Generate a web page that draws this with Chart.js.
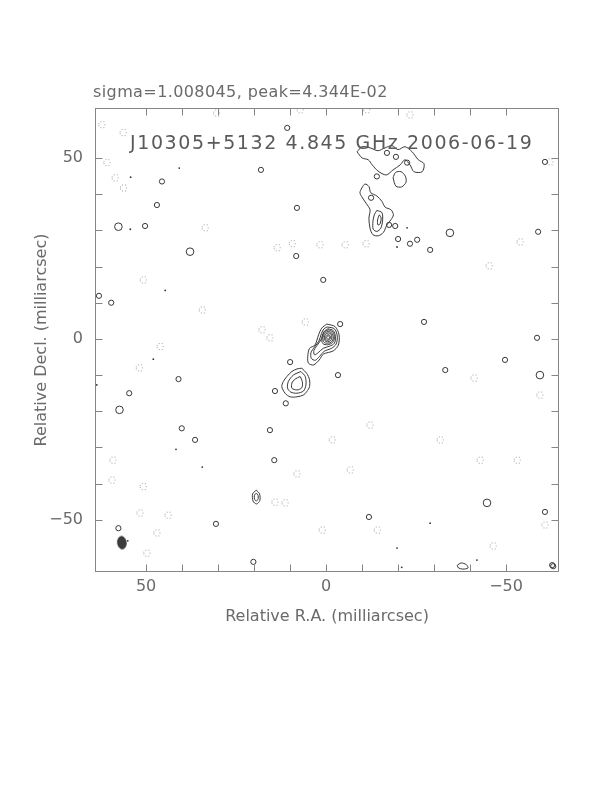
<!DOCTYPE html>
<html><head><meta charset="utf-8">
<script src="https://cdn.jsdelivr.net/npm/chart.js@4"></script>
<style>html,body{margin:0;padding:0;background:#fff;}#wrap{width:612px;height:792px;}</style>
</head><body><div id="wrap"><canvas id="c" width="612" height="792"></canvas></div>
<script>
// ---------- text ----------
const headerText = 'sigma=1.008045, peak=4.344E-02';
const mapLabel = 'J10305+5132 4.845 GHz 2006-06-19';
const xTitle = 'Relative R.A. (milliarcsec)';
const yTitle = 'Relative Decl. (milliarcsec)';
const xTickLabels = [50, 0, -50];
const yTickLabels = [50, 0, -50];
const xRange = [-64.7, 64.2];
const yRange = [-64.4, 63.8];

// ---------- contours (RA, Dec in mas) ----------
const coreContours = [
  [[-0.2,4.1],[-2.5,3.4],[-3.6,1.1],[-3.4,-1.7],[-2.0,-3.3],[0.75,-4.2],[1.9,-5.8],[3.5,-7.2],[4.9,-6.7],[5.1,-4.9],[4.6,-2.6],[3.1,-1.7],[2.1,1.1],[1.2,3.0]],
  [[-0.3,3.3],[-2.3,2.8],[-3.1,0.8],[-2.8,-1.4],[-1.5,-2.6],[0.5,-3.4],[1.8,-4.8],[3.0,-5.9],[4.1,-5.4],[4.2,-3.8],[3.2,-2.2],[2.0,-0.6],[1.3,1.5],[0.6,2.8]],
  [[-0.5,2.8],[-2.0,2.3],[-2.6,0.6],[-2.3,-1.2],[-1.0,-2.0],[0.8,-2.6],[2.2,-3.8],[3.2,-4.4],[3.4,-3.2],[2.2,-1.4],[1.2,0.2],[0.6,2.0]],
  [[-0.6,2.5],[-1.9,1.9],[-2.3,0.3],[-1.8,-1.0],[-0.4,-1.6],[0.9,-1.3],[1.2,0.2],[0.6,1.8]],
  [[-0.6,2.1],[-1.6,1.6],[-2.0,0.3],[-1.5,-0.8],[-0.4,-1.2],[0.6,-0.9],[0.9,0.3],[0.4,1.5]],
  [[-0.6,1.7],[-1.4,1.3],[-1.6,0.3],[-1.2,-0.5],[-0.4,-0.8],[0.3,-0.5],[0.5,0.3],[0.2,1.2]],
  [[-0.6,1.2],[-1.1,0.9],[-1.2,0.3],[-0.9,-0.2],[-0.4,-0.4],[0.1,-0.2],[0.2,0.4],[-0.1,0.9]],
  [[-0.6,0.9],[-0.9,0.6],[-0.9,0.1],[-0.5,-0.1],[-0.2,0.2],[-0.2,0.6]]
];
const jetContours = [
  [[6.75,-8.1],[5.4,-9.5],[4.6,-11.3],[4.6,-13.2],[5.4,-14.6],[6.3,-15.5],[8.1,-16.0],[10.0,-16.0],[11.4,-15.0],[12.3,-13.2],[11.9,-11.8],[10.9,-10.4],[9.5,-9.0],[8.1,-8.3]],
  [[7.0,-9.0],[5.8,-10.4],[5.6,-12.7],[6.3,-14.4],[8.1,-15.0],[9.8,-14.7],[10.7,-13.6],[10.5,-11.8],[9.1,-10.0]],
  [[7.2,-10.4],[6.6,-11.8],[6.75,-13.5],[8.1,-14.1],[9.5,-13.6],[9.5,-12.2],[8.6,-11.1]]
];
const northContours = [
  [[-8.6,51.7],[-10.0,53.1],[-12.2,52.8],[-14.4,52.0],[-16.4,52.8],[-18.3,53.4],[-20.0,52.3],[-21.9,53.1],[-23.9,51.7],[-25.6,49.5],[-27.2,48.4],[-26.7,46.2],[-24.4,46.2],[-23.3,48.1],[-21.9,49.5],[-20.6,48.1],[-18.6,46.7],[-16.7,45.3],[-14.4,46.4],[-12.8,48.1],[-11.7,49.5],[-10.0,50.0]],
  [[-18.6,44.5],[-19.3,46.0],[-20.8,46.2],[-22.0,45.0],[-22.2,43.3],[-21.0,42.0],[-19.4,42.2]],
  [[-9.9,41.7],[-10.8,42.8],[-11.9,42.1],[-12.4,40.4],[-14.1,39.5],[-15.5,38.0],[-16.4,36.4],[-18.0,35.7],[-18.7,34.3],[-18.0,32.9],[-16.9,31.5],[-15.9,29.4],[-14.5,28.5],[-13.0,28.8],[-12.2,30.6],[-11.9,33.4],[-12.2,35.7],[-11.1,37.5],[-9.9,39.3],[-9.4,40.4]],
  [[-14.1,35.5],[-15.5,34.9],[-15.7,32.9],[-15.2,30.6],[-14.1,29.7],[-13.1,30.3],[-13.0,32.4],[-13.4,34.3]],
  [[-14.8,34.3],[-15.3,33.4],[-15.0,31.8],[-14.4,31.5],[-14.3,32.9]]
];
const otherContours = [
  [[19.4,-41.8],[18.5,-42.8],[18.4,-44.6],[19.3,-45.6],[20.3,-44.8],[20.4,-42.8]],
  [[19.4,-42.6],[18.9,-43.2],[18.9,-44.2],[19.4,-44.8],[19.9,-44.2],[19.9,-43.2]],
  [[-36.4,-62.6],[-37.5,-61.9],[-39.0,-62.4],[-39.4,-63.3],[-38.0,-63.6],[-36.8,-63.3]]
];

// ---------- noise features (RA, Dec in mas) ----------
const smallPositive = [
  [45.6,43.5],[47.0,37.0],[50.3,31.2],[63.1,11.9],[59.7,10.0],[41.0,-11.1],[54.7,-15.0],[40.1,-24.7],[36.4,-27.9],
  [57.7,-52.3],[8.1,36.2],[18.1,46.7],[10.8,58.3],[8.3,22.9],[0.8,16.3],[-14.1,44.9],[-16.9,51.4],[-17.5,31.5],
  [-19.2,31.2],[-20.0,27.6],[-23.3,26.3],[-25.3,27.4],[-28.9,24.6],[-27.2,4.7],[-33.1,-8.6],[-3.9,4.1],
  [10.0,-6.4],[-3.3,-10.0],[14.2,-14.4],[11.2,-17.8],[15.6,-25.2],[14.4,-33.5],[30.6,-51.1],[-11.9,-49.2],
  [-60.8,-47.8],[-58.6,0.3],[-49.7,-5.8],[-60.8,48.9],[-58.9,29.6],[-62.8,-62.5],[-12.5,39.0],[-19.4,50.3],
  [-22.5,48.7],[20.2,-61.6],[-63.1,-62.8]
];
const largePositive = [[37.8,24.1],[57.4,-19.6],[57.7,31.0],[-44.7,-45.3],[-59.4,-10.0],[-34.4,29.3]];
const tinyDots = [
  [40.8,47.2],[54.3,44.7],[54.4,30.3],[44.7,13.4],[48.0,-5.6],[63.7,-12.7],[41.7,-30.5],[55.1,-55.8],
  [-22.5,30.7],[-19.7,25.4],[-19.7,-57.8],[-28.9,-50.9],[-41.9,-61.1],[34.4,-35.4],[-21.0,-63.1]
];
const negative = [
  [62.3,59.2],[56.4,57.0],[60.9,48.7],[58.6,44.5],[56.3,41.7],[50.8,16.3],[46.1,-2.1],[51.9,-8.0],[59.2,-33.5],
  [59.5,-39.0],[51.7,-48.1],[50.8,-40.8],[43.9,-48.7],[47.0,-53.6],[49.8,-59.2],[33.6,30.7],[34.4,8.0],[17.8,2.5],
  [15.6,0.3],[13.6,25.2],[9.4,26.3],[1.7,26.0],[-5.3,26.0],[-11.1,26.3],[5.8,4.7],[8.1,-37.3],[-1.7,-27.9],
  [1.1,-52.8],[-14.2,-52.8],[-12.2,-23.8],[-6.7,-36.2],[-31.7,-27.9],[-42.8,-33.5],[-45.3,20.2],[-41.1,-10.8],
  [-53.1,-33.5],[-62.2,48.9],[-53.9,26.8],[-59.4,-15.5],[-60.8,-51.4],[-46.4,-57.2],[14.2,-45.1],[11.4,-45.3],
  [30.4,62.4],[7.2,63.3],[-11.3,63.3],[-23.3,61.9]
];
const beamCenter = [56.75, -56.3];

// ---------- styles ----------
const FONT = "'DejaVu Sans', 'Liberation Sans', sans-serif";
const TEXT_COLOR = '#6a6a6a';
const LINE_COLOR = '#383838';
const FRAME_COLOR = '#858585';

function makeDottedRing() {
  const c = document.createElement('canvas'); c.width = 9; c.height = 9;
  const g = c.getContext('2d'); g.fillStyle = '#a0a0a0';
  for (let k = 0; k < 7; k++) {
    const a = k * 2 * Math.PI / 7;
    g.fillRect(Math.round(4 + 3.4 * Math.cos(a)), Math.round(4 + 3.4 * Math.sin(a)), 1, 1);
  }
  return c;
}
function makeBeam() {
  const c = document.createElement('canvas'); c.width = 12; c.height = 16;
  const g = c.getContext('2d'); g.fillStyle = '#3c3c3c';
  g.beginPath(); g.ellipse(6, 8, 4.3, 6.3, -0.12, 0, 2 * Math.PI); g.fill();
  g.strokeStyle = '#222'; g.lineWidth = 0.8; g.stroke();
  return c;
}

const toXY = pts => pts.map(p => ({x: p[0], y: p[1]}));
const closedXY = poly => toXY(poly.concat([poly[0]]));

const datasets = [];
[...coreContours, ...jetContours, ...northContours, ...otherContours].forEach(poly => {
  datasets.push({data: closedXY(poly), showLine: true, pointRadius: 0, borderColor: LINE_COLOR,
    borderWidth: 1, tension: 0.3, fill: false});
});
datasets.push({data: toXY(smallPositive), pointStyle: 'circle', pointRadius: 2.6, borderWidth: 1,
  borderColor: LINE_COLOR, backgroundColor: 'rgba(0,0,0,0)'});
datasets.push({data: toXY(largePositive), pointStyle: 'circle', pointRadius: 3.8, borderWidth: 1,
  borderColor: LINE_COLOR, backgroundColor: 'rgba(0,0,0,0)'});
datasets.push({data: toXY(tinyDots), pointStyle: 'circle', pointRadius: 0.9, borderWidth: 0,
  backgroundColor: '#333'});
datasets.push({data: toXY(negative), pointStyle: makeDottedRing(), pointRadius: 4});
datasets.push({data: toXY([beamCenter]), pointStyle: makeBeam(), pointRadius: 7});

const isLabel = (v, list) => list.some(t => Math.abs(t - v) < 1e-6);
const fmt = v => (v < 0 ? '\u2212' + Math.abs(v) : String(v));

const framePlugin = {
  id: 'frame',
  beforeDraw(chart) {
    const ctx = chart.ctx; ctx.save(); ctx.fillStyle = '#fff';
    ctx.fillRect(0, 0, chart.width, chart.height); ctx.restore();
  },
  afterDatasetsDraw(chart) {
    const {ctx, chartArea: a, scales} = chart;
    ctx.save();
    ctx.strokeStyle = FRAME_COLOR; ctx.lineWidth = 1;
    const L = Math.round(a.left) + 0.5, R = Math.round(a.right) - 0.5;
    const T = Math.round(a.top) + 0.5, B = Math.round(a.bottom) - 0.5;
    ctx.strokeRect(L, T, R - L, B - T);
    const tl = 7;
    ctx.beginPath();
    scales.x.ticks.forEach(t => {
      if (Math.abs(t.value / 10 - Math.round(t.value / 10)) > 1e-6) return;
      const px = Math.round(scales.x.getPixelForValue(t.value)) + 0.5;
      ctx.moveTo(px, B); ctx.lineTo(px, B - tl);
      ctx.moveTo(px, T); ctx.lineTo(px, T + tl);
    });
    scales.y.ticks.forEach(t => {
      if (Math.abs(t.value / 10 - Math.round(t.value / 10)) > 1e-6) return;
      const py = Math.round(scales.y.getPixelForValue(t.value)) + 0.5;
      ctx.moveTo(L, py); ctx.lineTo(L + tl, py);
      ctx.moveTo(R, py); ctx.lineTo(R - tl, py);
    });
    ctx.stroke();
    // header above the frame
    ctx.fillStyle = TEXT_COLOR;
    ctx.textBaseline = 'alphabetic'; ctx.textAlign = 'left';
    ctx.font = '16px ' + FONT;
    ctx.letterSpacing = '0.4px';
    ctx.fillText(headerText, 93, 96.5);
    // map label inside the frame
    ctx.font = '19px ' + FONT;
    ctx.letterSpacing = '1.6px';
    ctx.fillStyle = '#5a5a5a';
    ctx.fillText(mapLabel, 130, 148.5);
    ctx.restore();
  }
};

new Chart(document.getElementById('c'), {
  type: 'scatter',
  data: {datasets},
  options: {
    responsive: false, animation: false, devicePixelRatio: 1,
    layout: {padding: {left: 0, top: 108, right: 53, bottom: 160}},
    plugins: {legend: {display: false}, tooltip: {enabled: false}, title: {display: false}},
    scales: {
      x: {
        type: 'linear', position: 'bottom', reverse: true, min: xRange[0], max: xRange[1],
        grid: {display: false, drawTicks: false}, border: {display: false},
        ticks: {stepSize: 10, autoSkip: false, maxRotation: 0, padding: 5, color: TEXT_COLOR,
          font: {family: FONT, size: 16},
          callback: v => isLabel(v, xTickLabels) ? fmt(v) : ''},
        title: {display: true, text: xTitle, color: TEXT_COLOR, font: {family: FONT, size: 16},
          padding: {top: 0, bottom: 5.4}},
        afterFit: s => { s.height = 60; }
      },
      y: {
        type: 'linear', position: 'left', min: yRange[0], max: yRange[1],
        grid: {display: false, drawTicks: false}, border: {display: false},
        ticks: {stepSize: 10, autoSkip: false, padding: 12, color: TEXT_COLOR,
          font: {family: FONT, size: 16},
          callback: v => isLabel(v, yTickLabels) ? fmt(v) : ''},
        title: {display: true, text: yTitle, color: TEXT_COLOR, font: {family: FONT, size: 16},
          padding: {top: 32.4, bottom: 0}},
        afterFit: s => { s.width = 95; }
      }
    }
  },
  plugins: [framePlugin]
});
</script>
</body></html>
